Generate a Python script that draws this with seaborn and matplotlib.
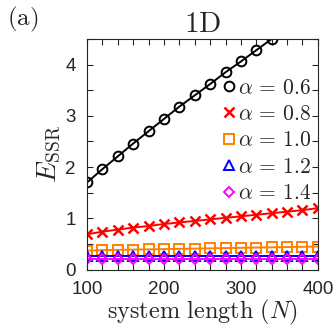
import numpy as np
import pandas as pd
import matplotlib
matplotlib.use("Agg")
import matplotlib.pyplot as plt
from matplotlib.lines import Line2D
from matplotlib.ticker import MultipleLocator
import seaborn as sns

N = [100, 120, 140, 160, 180, 200, 220, 240, 260, 280, 300, 320, 340, 360, 380, 400]
alpha_labels = ["0.6", "0.8", "1.0", "1.2", "1.4"]
E_06 = [1.70, 1.96, 2.21, 2.46, 2.70, 2.94, 3.18, 3.40, 3.62, 3.85, 4.06, 4.28, 4.50]
E_08 = [0.69, 0.74, 0.78, 0.82, 0.85, 0.89, 0.92, 0.95, 0.98, 1.01, 1.04, 1.07, 1.10, 1.13, 1.16, 1.20]
E_10 = [0.37, 0.38, 0.385, 0.39, 0.395, 0.40, 0.405, 0.41, 0.415, 0.42, 0.425, 0.43, 0.435, 0.44, 0.445, 0.45]
E_12 = [0.27] * 16
E_14 = [0.20] * 16

series = [E_06, E_08, E_10, E_12, E_14]
colors = ["black", "#ff0000", "#ff8000", "#0000ff", "#ff00ff"]
markers = ["o", "x", "s", "^", "D"]
msizes = [7, 6.5, 7, 6.5, 5.5]

sns.set_style("ticks")
plt.rcParams["mathtext.fontset"] = "cm"
plt.rcParams["font.family"] = ["Liberation Sans", "DejaVu Sans"]

fig = plt.figure(figsize=(3.36, 3.30), dpi=100)
ax = fig.add_axes([0.259, 0.183, 0.687, 0.699])

handles = []
for vals, c, m, ms, lab in zip(series, colors, markers, msizes, alpha_labels):
    df = pd.DataFrame({"N": N[:len(vals)], "E": vals})
    mew = 1.8 if m == "x" else 1.4
    sns.lineplot(data=df, x="N", y="E", ax=ax, color=c, marker=m, markersize=ms,
                 markerfacecolor="none", markeredgecolor=c, markeredgewidth=mew,
                 linewidth=1.4, legend=False)
    handles.append(Line2D([], [], linestyle="none", marker=m, markersize=ms,
                          markerfacecolor="none", markeredgecolor=c, markeredgewidth=mew))

ax.set_xlim(100, 400)
ax.set_ylim(0, 4.5)
ax.xaxis.set_major_locator(MultipleLocator(100))
ax.xaxis.set_minor_locator(MultipleLocator(20))
ax.yaxis.set_major_locator(MultipleLocator(1))
ax.yaxis.set_minor_locator(MultipleLocator(0.5))
ax.tick_params(which="both", direction="in", top=True, right=True, length=4,
               width=0.8, color="#262626")
ax.tick_params(which="major", labelsize=13.5, labelcolor="#262626")
ax.tick_params(axis="x", which="major", pad=8)
ax.tick_params(axis="y", which="major", pad=8)
for s in ax.spines.values():
    s.set_linewidth(0.8)
    s.set_color("#262626")

ax.set_xlabel(r"$\mathrm{system\ length\ }(N)$", fontsize=17.5, labelpad=0)
ax.set_ylabel(r"$E_{\mathrm{SSR}}$", fontsize=20, labelpad=2)
ax.set_title(r"$\mathrm{1D}$", fontsize=21, pad=5)
fig.text(0.02, 0.985, r"$\mathrm{(a)}$", fontsize=18, va="top", ha="left")

ax.legend(handles, [r"$\alpha\,=\,%s$" % a for a in alpha_labels], loc="upper right",
          bbox_to_anchor=(1.01, 0.87), frameon=False, fontsize=15.5, handlelength=0.5,
          handletextpad=0.2, labelspacing=0.25, borderaxespad=0.0)

fig.savefig("out.png", dpi=100)
